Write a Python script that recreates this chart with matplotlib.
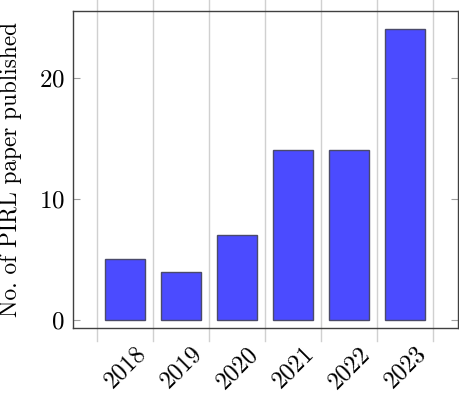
import numpy as np
import matplotlib.pyplot as plt

years = ['2018', '2019', '2020', '2021', '2022', '2023']
papers = [5, 4, 7, 14, 14, 24]

plt.rcParams['font.family'] = 'cmr10'
plt.rcParams['axes.formatter.use_mathtext'] = True
plt.rcParams['mathtext.fontset'] = 'cm'

fig = plt.figure(figsize=(4.6, 3.96), dpi=100)
ax = fig.add_axes([0.1587, 0.1717, 0.837, 0.8005])

x = np.arange(len(years))
ax.bar(x, papers, width=0.72, color='#4b4bff', edgecolor='#4a4a6a', linewidth=1.0, zorder=3)

ax.set_xlim(-0.93, 5.95)
ax.set_ylim(-0.66, 25.5)

# grid lines between bars, running past the frame like in pgfplots
bounds = np.arange(-0.5, len(years), 1.0)
for b in bounds:
    ax.axvline(b, ymin=-0.04, ymax=1.035, color='#d0d0d0', lw=1.0, clip_on=False, zorder=0)

# rotated year labels, anchored at their right end
ax.set_xticks(x + 0.32)
ax.set_xticklabels(years, rotation=45, ha='right', va='center', rotation_mode='anchor', fontsize=17.5)
ax.tick_params(axis='x', length=0, pad=16)

ax.set_yticks([0, 10, 20])
ax.tick_params(axis='y', direction='in', length=5, color='#a0a0a0', labelsize=18, right=True, pad=6)
ax.set_ylabel('No. of PIRL paper published', fontsize=16.8, labelpad=12)

for s in ax.spines.values():
    s.set_color('#404040')
    s.set_linewidth(1.0)
    s.set_zorder(4)

fig.savefig('out.png', dpi=100)
